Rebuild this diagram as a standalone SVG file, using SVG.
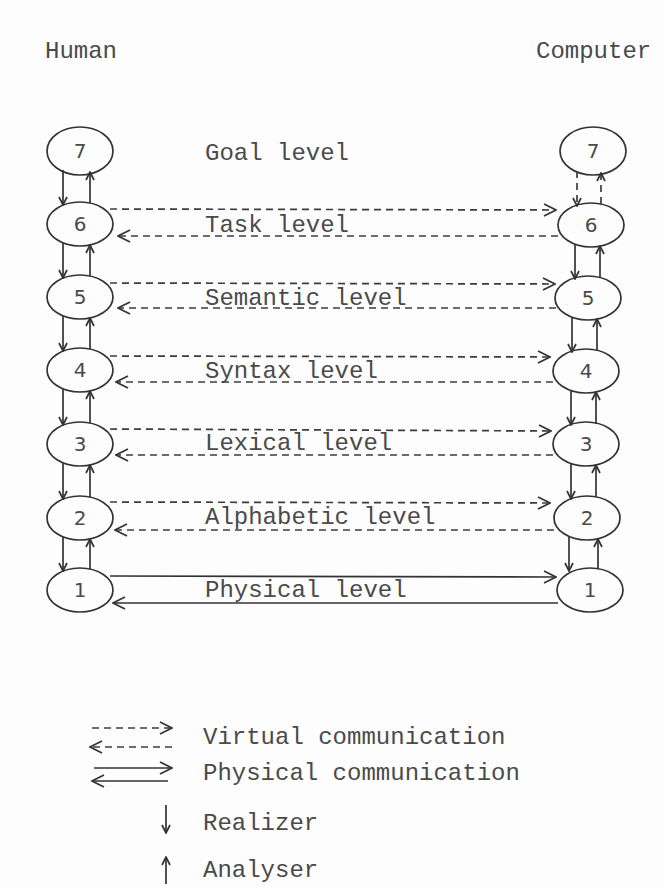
<svg xmlns="http://www.w3.org/2000/svg" width="664" height="888" viewBox="0 0 664 888">
<defs>
<style>
.t{font-family:"Liberation Mono","Courier New",monospace;font-size:24px;fill:#4a4a4a}
.d{font-family:"DejaVu Sans","Liberation Sans",sans-serif;font-size:20px;fill:#4a4a4a;text-anchor:middle}
.n{fill:none;stroke:#333;stroke-width:1.7}
.s{fill:none;stroke:#333;stroke-width:1.7}
.h{fill:none;stroke:#3c3c3c;stroke-width:1.7;stroke-dasharray:7 5}
.ha{marker-end:url(#big)}
.va{marker-end:url(#sm)}
</style>
<marker id="big" viewBox="0 0 14 14" refX="13" refY="7" markerWidth="14" markerHeight="14" markerUnits="userSpaceOnUse" orient="auto">
<path d="M1,1 L13,7 L1,13" fill="none" stroke="#333" stroke-width="1.7"/>
</marker>
<marker id="sm" viewBox="0 0 10 10" refX="9" refY="5" markerWidth="10" markerHeight="10" markerUnits="userSpaceOnUse" orient="auto">
<path d="M1,1 L9,5 L1,9" fill="none" stroke="#333" stroke-width="1.7"/>
</marker>
</defs>
<rect width="664" height="888" fill="#fdfdfd"/>

<g id="headers">
<text class="t" x="45" y="58">Human</text>
<text class="t" x="536" y="58">Computer</text>
</g>

<g id="human-7"><ellipse class="n" cx="80" cy="151" rx="33" ry="24"/><text class="d" x="80" y="158">7</text></g>
<g id="human-6"><ellipse class="n" cx="80" cy="224" rx="33" ry="22"/><text class="d" x="80" y="231">6</text></g>
<g id="human-5"><ellipse class="n" cx="80" cy="297" rx="33" ry="22"/><text class="d" x="80" y="304">5</text></g>
<g id="human-4"><ellipse class="n" cx="80" cy="370" rx="33" ry="22"/><text class="d" x="80" y="377">4</text></g>
<g id="human-3"><ellipse class="n" cx="80" cy="444" rx="33" ry="22"/><text class="d" x="80" y="451">3</text></g>
<g id="human-2"><ellipse class="n" cx="80" cy="518" rx="33" ry="22"/><text class="d" x="80" y="525">2</text></g>
<g id="human-1"><ellipse class="n" cx="80" cy="590" rx="33" ry="22"/><text class="d" x="80" y="597">1</text></g>

<g id="computer-7"><ellipse class="n" cx="593" cy="151" rx="33" ry="24"/><text class="d" x="593" y="158">7</text></g>
<g id="computer-6"><ellipse class="n" cx="591" cy="225" rx="33" ry="22"/><text class="d" x="591" y="232">6</text></g>
<g id="computer-5"><ellipse class="n" cx="588" cy="298" rx="33" ry="22"/><text class="d" x="588" y="305">5</text></g>
<g id="computer-4"><ellipse class="n" cx="586" cy="371" rx="33" ry="22"/><text class="d" x="586" y="378">4</text></g>
<g id="computer-3"><ellipse class="n" cx="586" cy="444" rx="33" ry="22"/><text class="d" x="586" y="451">3</text></g>
<g id="computer-2"><ellipse class="n" cx="587" cy="518" rx="33" ry="22"/><text class="d" x="587" y="525">2</text></g>
<g id="computer-1"><ellipse class="n" cx="590" cy="590" rx="33" ry="22"/><text class="d" x="590" y="597">1</text></g>

<g id="level-labels">
<text class="t" x="205" y="160">Goal level</text>
<text class="t" x="205" y="232">Task level</text>
<text class="t" x="205" y="305">Semantic level</text>
<text class="t" x="205" y="378">Syntax level</text>
<text class="t" x="205" y="450">Lexical level</text>
<text class="t" x="205" y="524">Alphabetic level</text>
<text class="t" x="205" y="597">Physical level</text>
</g>

<g id="connectors">
<line class="s va" x1="63" y1="170" x2="63" y2="205"/>
<line class="s va" x1="90" y1="203" x2="90" y2="172"/>
<line class="s va" x1="63" y1="243" x2="63" y2="278"/>
<line class="s va" x1="90" y1="276" x2="90" y2="245"/>
<line class="s va" x1="63" y1="316" x2="63" y2="351"/>
<line class="s va" x1="90" y1="349" x2="90" y2="318"/>
<line class="s va" x1="63" y1="389" x2="63" y2="425"/>
<line class="s va" x1="90" y1="423" x2="90" y2="391"/>
<line class="s va" x1="63" y1="463" x2="63" y2="499"/>
<line class="s va" x1="90" y1="497" x2="90" y2="465"/>
<line class="s va" x1="63" y1="537" x2="63" y2="571"/>
<line class="s va" x1="90" y1="569" x2="90" y2="539"/>
<line class="h va" x1="577" y1="171" x2="577" y2="206"/>
<line class="h va" x1="601" y1="204" x2="601" y2="173"/>
<line class="s va" x1="575" y1="244" x2="575" y2="279"/>
<line class="s va" x1="600" y1="278" x2="600" y2="246"/>
<line class="s va" x1="572" y1="317" x2="572" y2="352"/>
<line class="s va" x1="597" y1="351" x2="597" y2="319"/>
<line class="s va" x1="571" y1="390" x2="571" y2="425"/>
<line class="s va" x1="596" y1="424" x2="596" y2="392"/>
<line class="s va" x1="571" y1="463" x2="571" y2="499"/>
<line class="s va" x1="596" y1="497" x2="596" y2="465"/>
<line class="s va" x1="569" y1="537" x2="569" y2="571"/>
<line class="s va" x1="598" y1="569" x2="598" y2="539"/>
<line class="h ha" x1="110" y1="209" x2="556" y2="210"/>
<line class="h ha" x1="558" y1="236" x2="118" y2="236"/>
<line class="h ha" x1="110" y1="283" x2="555" y2="284"/>
<line class="h ha" x1="556" y1="308" x2="118" y2="308"/>
<line class="h ha" x1="110" y1="356" x2="550" y2="357"/>
<line class="h ha" x1="553" y1="382" x2="116" y2="382"/>
<line class="h ha" x1="110" y1="429" x2="551" y2="431"/>
<line class="h ha" x1="553" y1="455" x2="116" y2="455"/>
<line class="h ha" x1="110" y1="502" x2="550" y2="503"/>
<line class="h ha" x1="554" y1="530" x2="115" y2="530"/>
<line class="s ha" x1="110" y1="576" x2="556" y2="577"/>
<line class="s ha" x1="558" y1="603" x2="113" y2="603"/>
</g>

<g id="legend">
<line class="h ha" x1="92" y1="728" x2="172" y2="728"/>
<line class="h ha" x1="172" y1="747" x2="90" y2="747"/>
<line class="s ha" x1="94" y1="768" x2="172" y2="768"/>
<line class="s ha" x1="168" y1="781" x2="92" y2="781"/>
<line class="s va" x1="166" y1="805" x2="166" y2="833"/>
<line class="s va" x1="166" y1="884" x2="166" y2="857"/>
<text class="t" x="203" y="744">Virtual communication</text>
<text class="t" x="203" y="780">Physical communication</text>
<text class="t" x="203" y="830">Realizer</text>
<text class="t" x="203" y="877">Analyser</text>
</g>
</svg>
